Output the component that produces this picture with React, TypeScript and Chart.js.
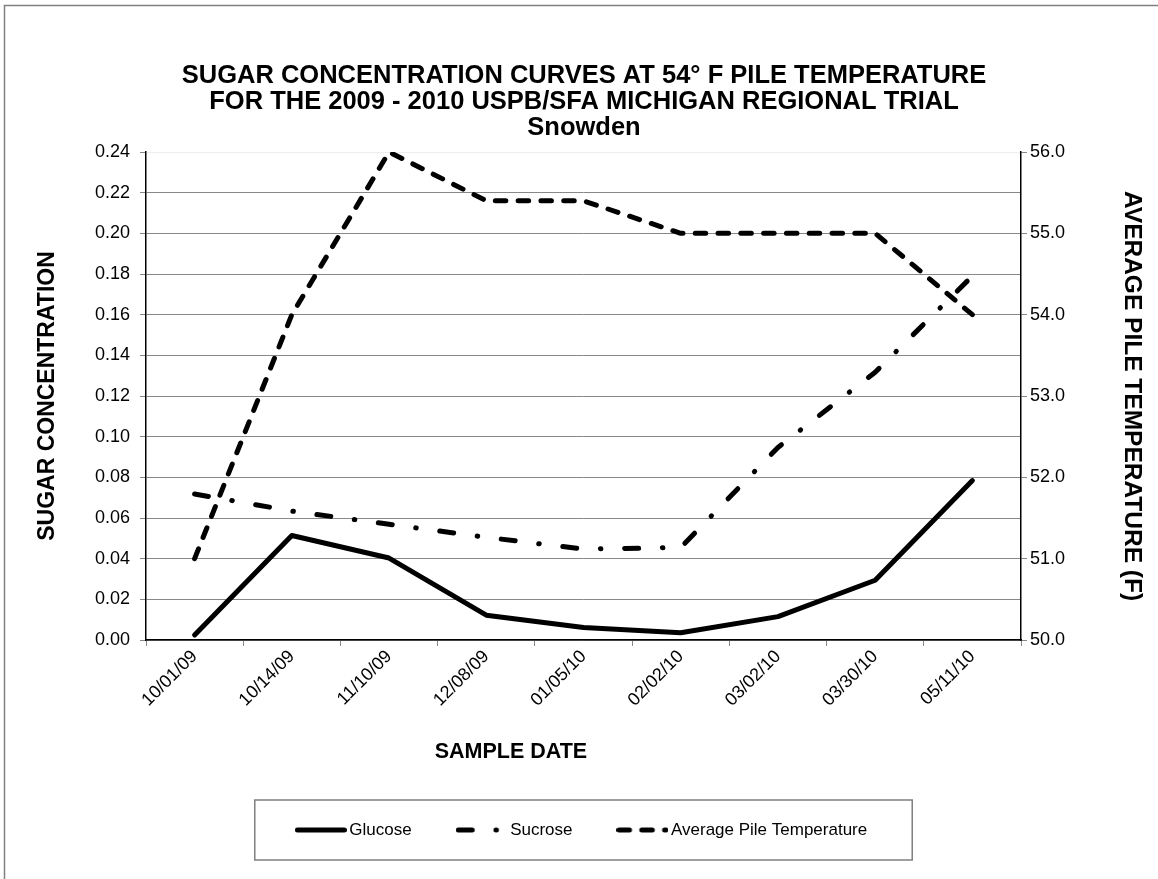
import { useEffect, useRef } from 'react';
import { Chart, registerables } from 'chart.js';

Chart.register(...registerables);

const FONT = '"Liberation Sans", Arial, Helvetica, sans-serif';

const categories = ['10/01/09', '10/14/09', '11/10/09', '12/08/09', '01/05/10', '02/02/10', '03/02/10', '03/30/10', '05/11/10'];
const glucose = [0.0025, 0.0514, 0.0403, 0.0122, 0.0061, 0.0036, 0.0115, 0.0294, 0.0784];
const sucrose = [0.0718, 0.0634, 0.0569, 0.0505, 0.0447, 0.0455, 0.0947, 0.1317, 0.179];
const pileTemperature = [51.0, 54.0, 56.0, 55.4, 55.4, 55.0, 55.0, 55.0, 54.0];

const titleLines = [
  'SUGAR CONCENTRATION CURVES AT 54\u00B0 F PILE TEMPERATURE',
  'FOR THE 2009 - 2010 USPB/SFA MICHIGAN REGIONAL TRIAL',
  'Snowden',
];
const seriesNames = ['Glucose', 'Sucrose', 'Average Pile Temperature'];
const seriesDashes: number[][] = [[], [14, 23.75, 0.5, 23.75], [10.5, 12.3]];
const leftAxisTitle = 'SUGAR CONCENTRATION';
const rightAxisTitle = 'AVERAGE PILE TEMPERATURE (F)';
const xAxisTitle = 'SAMPLE DATE';

const LINE_W = 5;
const SAMPLE_W = 52;
const SAMPLE_BOX = 40;

function makeSample(dash: number[]): HTMLCanvasElement {
  const c = document.createElement('canvas');
  c.width = SAMPLE_W;
  c.height = 8;
  const ctx = c.getContext('2d')!;
  ctx.strokeStyle = '#000';
  ctx.lineWidth = LINE_W;
  ctx.lineCap = 'round';
  ctx.setLineDash(dash);
  ctx.beginPath();
  ctx.moveTo(LINE_W / 2, 4);
  ctx.lineTo(SAMPLE_W - LINE_W / 2, 4);
  ctx.stroke();
  return c;
}

const framePlugin = {
  id: 'frame',
  afterDraw(chart: any) {
    const ctx = chart.ctx;
    ctx.save();
    ctx.strokeStyle = '#808080';
    ctx.lineWidth = 1.5;
    ctx.strokeRect(4.5, 5.5, chart.width + 20, chart.height + 20);
    ctx.restore();
  },
};

const legendBoxPlugin = {
  id: 'legendBox',
  afterDraw(chart: any) {
    const lg = chart.legend;
    if (!lg || !lg.legendHitBoxes || !lg.legendHitBoxes.length) return;
    const hb = lg.legendHitBoxes;
    const minL = Math.min(...hb.map((h: any) => h.left));
    const maxR = Math.max(...hb.map((h: any) => h.left + h.width));
    const cy = hb[0].top + hb[0].height / 2;
    const ctx = chart.ctx;
    ctx.save();
    ctx.strokeStyle = '#808080';
    ctx.lineWidth = 1.5;
    ctx.strokeRect(minL - 46, cy - 30, maxR - minL + 91, 60);
    ctx.restore();
  },
};

const xTitlePlugin = {
  id: 'xTitle',
  afterDraw(chart: any) {
    const area = chart.chartArea;
    const ctx = chart.ctx;
    ctx.save();
    ctx.font = `bold 21.5px ${FONT}`;
    ctx.fillStyle = '#000';
    ctx.textAlign = 'center';
    ctx.textBaseline = 'middle';
    ctx.fillText(xAxisTitle, area.left + area.width * 0.417, area.bottom + 112);
    ctx.restore();
  },
};

export default function App() {
  const canvasRef = useRef<HTMLCanvasElement | null>(null);

  useEffect(() => {
    document.body.style.margin = '0';
    document.body.style.overflow = 'hidden';
    const canvas = canvasRef.current;
    if (!canvas) return;

    const samples = seriesDashes.map(makeSample);

    const common = {
      borderColor: '#000',
      backgroundColor: '#000',
      borderWidth: LINE_W,
      borderCapStyle: 'round',
      borderJoinStyle: 'round',
      pointRadius: 0,
      pointHoverRadius: 0,
      tension: 0,
      fill: false,
    };

    const chart = new Chart(canvas, {
      type: 'line',
      data: {
        labels: categories,
        datasets: [
          { ...common, label: seriesNames[0], data: glucose, yAxisID: 'y', borderDash: seriesDashes[0] },
          { ...common, label: seriesNames[1], data: sucrose, yAxisID: 'y', borderDash: seriesDashes[1] },
          { ...common, label: seriesNames[2], data: pileTemperature, yAxisID: 'y1', borderDash: seriesDashes[2] },
        ] as any,
      },
      options: {
        animation: false,
        responsive: false,
        maintainAspectRatio: false,
        layout: { padding: { left: 10, right: 0, top: 0, bottom: 30.5 } },
        plugins: {
          title: {
            display: true,
            text: titleLines,
            color: '#000',
            font: { size: 25.5, weight: 'bold', family: FONT, lineHeight: 26 / 25.5 },
            padding: { top: 62.5, bottom: 11.5 },
          },
          legend: {
            display: true,
            position: 'bottom',
            labels: {
              usePointStyle: true,
              pointStyleWidth: SAMPLE_BOX,
              padding: 50,
              color: '#000',
              font: { size: 17, family: FONT },
              generateLabels: (ch: any) => {
                const items = Chart.defaults.plugins.legend.labels.generateLabels(ch);
                return items.map((it: any, i: number) => ({ ...it, pointStyle: samples[i], lineWidth: 0 }));
              },
            },
          },
          tooltip: { enabled: false },
        },
        scales: {
          x: {
            type: 'category',
            offset: true,
            grid: { offset: true, drawOnChartArea: false, drawTicks: true, tickLength: 6, color: '#888' },
            border: { color: '#000', width: 1.5 },
            ticks: {
              autoSkip: false,
              minRotation: 45,
              maxRotation: 45,
              padding: 0,
              color: '#000',
              font: { size: 18, family: FONT },
            },
            afterFit: (s: any) => { s.height = 131.5; },
          },
          y: {
            type: 'linear',
            position: 'left',
            min: 0,
            max: 0.24,
            ticks: {
              stepSize: 0.02,
              padding: 10,
              color: '#000',
              font: { size: 18, family: FONT },
              callback: (v: any) => Number(v).toFixed(2),
            },
            grid: {
              color: (c: any) => (c.tick && c.tick.value > 0.239 ? '#eeeeee' : '#888'),
              tickColor: '#888',
              tickLength: 6,
              lineWidth: 1,
            },
            border: { color: '#000', width: 1.5 },
            title: {
              display: true,
              text: leftAxisTitle,
              color: '#000',
              font: { size: 23, weight: 'bold', family: FONT },
              padding: { top: 23.5, bottom: 0 },
            },
            afterFit: (s: any) => { s.width = 136; },
          },
          y1: {
            type: 'linear',
            position: 'right',
            min: 50,
            max: 56,
            ticks: {
              stepSize: 1,
              padding: 3,
              color: '#000',
              font: { size: 18, family: FONT },
              callback: (v: any) => Number(v).toFixed(1),
            },
            grid: { drawOnChartArea: false, tickLength: 6, color: '#888' },
            border: { color: '#000', width: 1.5 },
            title: {
              display: true,
              text: rightAxisTitle,
              color: '#000',
              font: { size: 24.5, weight: 'bold', family: FONT },
              padding: { top: 11.3, bottom: 0 },
            },
            afterFit: (s: any) => { s.width = 137; },
          },
        },
      } as any,
      plugins: [framePlugin, legendBoxPlugin, xTitlePlugin],
    });

    return () => {
      chart.destroy();
    };
  }, []);

  return (
    <div style={{ width: 1158, height: 879, position: 'relative', background: '#fff' }}>
      <canvas ref={canvasRef} width={1158} height={879} style={{ display: 'block', width: 1158, height: 879 }} />
    </div>
  );
}
